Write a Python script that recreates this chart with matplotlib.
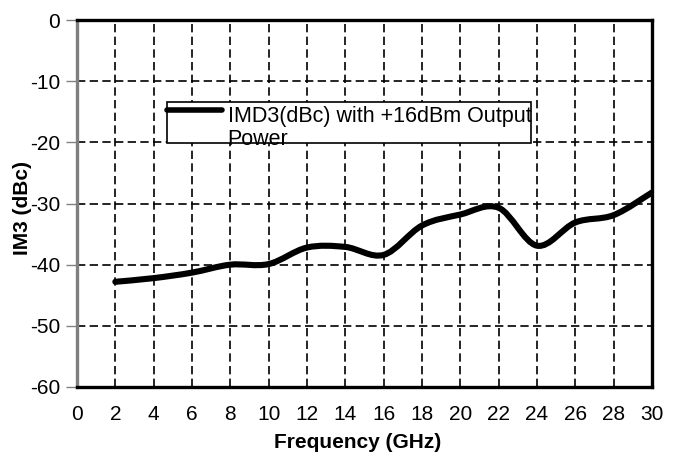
import matplotlib
matplotlib.use('Agg')
import matplotlib.pyplot as plt
from matplotlib.path import Path
from matplotlib.patches import PathPatch, Rectangle
from matplotlib.lines import Line2D

plt.rcParams['font.family'] = ['Liberation Sans', 'DejaVu Sans']
plt.rcParams['axes.unicode_minus'] = False

# measured IM3 vs frequency
freq_ghz = [2, 4, 6, 8, 10, 12, 14, 16, 18, 20, 22, 24, 26, 28, 30]
im3_dbc = [-42.8, -42.2, -41.3, -40.0, -39.9, -37.2, -37.1, -38.4,
           -33.6, -31.8, -30.7, -36.9, -33.1, -31.9, -28.2]
x_ticks = list(range(0, 31, 2))
y_ticks = list(range(-60, 1, 10))
series_name = 'IMD3(dBc) with +16dBm Output\nPower'


# smoothed line like a spreadsheet "smoothed line" series (cubic bezier)
def smooth_path(xs, ys):
    pts = list(zip(xs, ys))
    verts = [pts[0]]
    codes = [Path.MOVETO]
    n = len(pts)
    for i in range(n - 1):
        p0 = pts[i - 1] if i > 0 else pts[i]
        p1 = pts[i]
        p2 = pts[i + 1]
        p3 = pts[i + 2] if i + 2 < n else pts[i + 1]
        c1 = (p1[0] + (p2[0] - p0[0]) / 6, p1[1] + (p2[1] - p0[1]) / 6)
        c2 = (p2[0] - (p3[0] - p1[0]) / 6, p2[1] - (p3[1] - p1[1]) / 6)
        verts += [c1, c2, p2]
        codes += [Path.CURVE4] * 3
    return Path(verts, codes)


fig = plt.figure(figsize=(6.78, 4.59), dpi=100)
ax = fig.add_axes([77 / 678, 1 - 387 / 459, 575 / 678, 367 / 459])

ax.set_xlim(0, 30)
ax.set_ylim(-60, 0)
ax.set_xticks(x_ticks)
ax.set_yticks(y_ticks)
ax.tick_params(axis='x', length=0, pad=13, labelsize=15)
ax.tick_params(axis='y', length=8, width=1, color='#808080', pad=4, labelsize=15)

ax.grid(True, color='black', linewidth=1.2, dashes=(5, 2.6))
ax.set_axisbelow(True)

for side in ['top', 'right', 'bottom']:
    ax.spines[side].set_linewidth(2.4)
    ax.spines[side].set_color('black')
ax.spines['left'].set_linewidth(2.4)
ax.spines['left'].set_color('#7f7f7f')

curve = PathPatch(smooth_path(freq_ghz, im3_dbc), facecolor='none',
                  edgecolor='black', linewidth=4.4, capstyle='round', zorder=3)
ax.add_patch(curve)

# legend box, text runs past the right border and is cut off
box = Rectangle((0.1565, 0.6635), 0.6335, 0.1135, transform=ax.transAxes,
                facecolor='white', edgecolor='black', linewidth=1.2, zorder=4)
ax.add_patch(box)
ax.add_line(Line2D([0.1565, 0.252], [0.7545, 0.7545], transform=ax.transAxes,
                   color='black', linewidth=4, solid_capstyle='round', zorder=5))
label = ax.text(0.262, 0.765, series_name, transform=ax.transAxes,
                fontsize=15.5, va='top', ha='left', linespacing=1.1, zorder=5)
label.set_clip_path(box)

fig.text(358 / 678, 1 - 443 / 459, 'Frequency (GHz)', fontsize=15,
         fontweight='bold', ha='center', va='center')
fig.text(23 / 678, 1 - 208 / 459, 'IM3 (dBc)', fontsize=15,
         fontweight='bold', ha='center', va='center', rotation=90)

fig.savefig('out.png', dpi=100)
